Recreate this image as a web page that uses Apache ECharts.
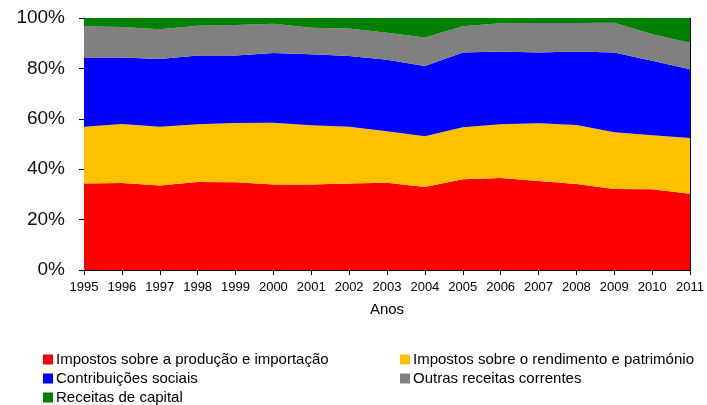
<!DOCTYPE html>
<html>
<head>
<meta charset="utf-8">
<script src="https://cdn.jsdelivr.net/npm/echarts@6/dist/echarts.min.js"></script>
<style>
html,body{margin:0;padding:0;background:#fff;}
#chart{width:707px;height:405px;}
</style>
</head>
<body>
<div id="chart"></div>
<script>
var anos = ['1995','1996','1997','1998','1999','2000','2001','2002','2003','2004','2005','2006','2007','2008','2009','2010','2011'];
var yTicks = [0, 20, 40, 60, 80, 100];

// percentagens (%)
var impProducao = [34.3,34.5,33.5,34.9,34.8,33.9,33.9,34.3,34.6,32.9,36.0,36.5,35.3,34.1,32.1,32.0,30.3];
var impRendimento = [22.5,23.4,23.3,22.9,23.5,24.5,23.5,22.5,20.5,20.2,20.6,21.3,22.9,23.4,22.6,21.5,22.1];
var contribSociais = [27.5,26.4,26.9,27.3,26.8,27.7,28.2,28.1,28.3,27.9,29.7,28.9,28.1,29.2,31.6,29.5,27.3];
var outrasReceitas = [12.4,12.1,11.8,11.8,12.1,11.6,10.5,10.9,10.7,11.3,10.4,11.2,11.7,11.3,11.8,10.6,10.5];
var receitasCapital = [3.3,3.6,4.5,3.1,2.8,2.3,3.9,4.2,5.9,7.7,3.3,2.1,2.0,2.0,1.9,6.4,9.8];

var nomes = ['Impostos sobre a produção e importação','Impostos sobre o rendimento e património','Contribuições sociais','Outras receitas correntes','Receitas de capital'];
var cores = ['#ff0000','#ffc000','#0000ff','#808080','#008000'];
var valores = [impProducao, impRendimento, contribSociais, outrasReceitas, receitasCapital];

var fonte = 'Liberation Sans Narrow, Arial Narrow, Liberation Sans, Arial, sans-serif';

var series = [];
for (var i = 0; i < nomes.length; i++) {
	series.push({
		name: nomes[i],
		type: 'line',
		stack: 'total',
		data: valores[i],
		symbol: 'none',
		lineStyle: {width: 0},
		areaStyle: {color: cores[i], opacity: 1},
		itemStyle: {color: cores[i]},
		z: 2
	});
}

var myChart = echarts.init(document.getElementById('chart'));
myChart.setOption({
	animation: false,
	grid: {left: 84, right: 16, top: 18, bottom: 135},
	legend: [
		{
			orient: 'vertical', left: 38, top: 347, height: 70, itemGap: 4,
			itemWidth: 10, itemHeight: 10, icon: 'rect',
			data: [nomes[0], nomes[2], nomes[4]],
			textStyle: {fontFamily: fonte, fontSize: 15, color: '#000', padding: [0,0,0,-2]}
		},
		{
			orient: 'vertical', left: 395, top: 347, height: 70, itemGap: 4,
			itemWidth: 10, itemHeight: 10, icon: 'rect',
			data: [nomes[1], nomes[3]],
			textStyle: {fontFamily: fonte, fontSize: 15, color: '#000', padding: [0,0,0,-2]}
		}
	],
	xAxis: [
		{
			type: 'category', data: anos, boundaryGap: false,
			name: 'Anos', nameLocation: 'middle', nameGap: 32,
			nameTextStyle: {fontFamily: fonte, fontSize: 15, color: '#000'},
			axisLine: {lineStyle: {color: '#000', width: 1}},
			axisTick: {show: true, length: 5, alignWithLabel: true, lineStyle: {color: '#000'}},
			axisLabel: {fontFamily: fonte, fontSize: 13, color: '#000', margin: 11, interval: 0},
			splitLine: {show: false}
		},
		{
			type: 'category', data: anos, boundaryGap: false, position: 'top',
			axisLine: {lineStyle: {color: '#000', width: 1}},
			axisTick: {show: false}, axisLabel: {show: false}, splitLine: {show: false}
		}
	],
	yAxis: [
		{
			type: 'value', min: yTicks[0], max: yTicks[yTicks.length - 1], interval: 20,
			axisLine: {show: true, lineStyle: {color: '#000', width: 1}},
			axisTick: {show: true, length: 5, lineStyle: {color: '#000'}},
			axisLabel: {fontFamily: fonte, fontSize: 19, color: '#111', margin: 19, formatter: '{value}%'},
			splitLine: {show: false}
		},
		{
			type: 'value', min: 0, max: 100, position: 'right',
			axisLine: {show: true, lineStyle: {color: '#000', width: 1}},
			axisTick: {show: false}, axisLabel: {show: false}, splitLine: {show: false}
		}
	],
	series: series
});
</script>
</body>
</html>
